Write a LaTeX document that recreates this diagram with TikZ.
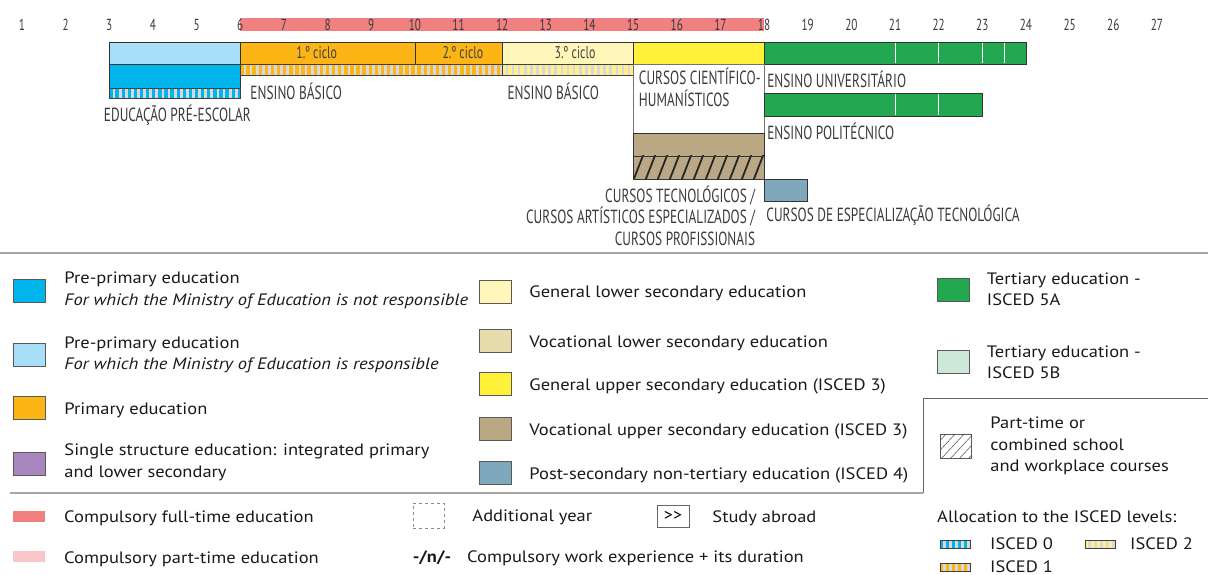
\documentclass[tikz,border=0pt]{standalone}
\usepackage{fontspec}
\setmainfont{PT Sans}[FakeStretch=1.12]
\newfontfamily\narrowfont[FakeStretch=0.70]{PT Sans}
\usetikzlibrary{positioning}

\definecolor{compfull}{RGB}{241,128,128}
\definecolor{comppart}{RGB}{249,198,201}
\definecolor{preblue}{RGB}{0,181,236}
\definecolor{prelight}{RGB}{168,222,247}
\definecolor{primary}{RGB}{253,181,21}
\definecolor{singlestr}{RGB}{168,134,190}
\definecolor{genlower}{RGB}{255,247,186}
\definecolor{voclower}{RGB}{230,220,172}
\definecolor{genupper}{RGB}{255,240,58}
\definecolor{vocupper}{RGB}{185,168,131}
\definecolor{postsec}{RGB}{127,168,189}
\definecolor{tertA}{RGB}{34,168,80}
\definecolor{tertB}{RGB}{205,232,214}
\definecolor{iscedtwo}{RGB}{255,240,140}
\definecolor{lblgray}{RGB}{58,58,58}

\tikzset{
  bar/.style={draw=black!80, line width=0.7pt},
  agelbl/.style={font=\narrowfont\fontsize{16}{16}\selectfont, text=lblgray, inner sep=0pt},
  ciclolbl/.style={font=\narrowfont\fontsize{17}{17}\selectfont, text=black!75, inner sep=0pt},
  chartlbl/.style={font=\narrowfont\fontsize{19}{21.5}\selectfont, text=lblgray, inner sep=0pt},
  swatch/.style={draw=black!65, line width=0.5pt, minimum width=32pt, minimum height=23pt, inner sep=0pt},
  legtxt/.style={font=\fontsize{16.5}{21.5}\selectfont, text=black!90, align=left, inner sep=0pt},
  sepline/.style={draw=black!35, line width=1.2pt},
}

% striped band for the ISCED allocation: fill, x1, y1, x2, y2, period
\newcommand\iscedband[6]{%
  \begin{scope}
    \clip (#2,#3) rectangle (#4,#5);
    \fill[black!15] (#2,#3) rectangle (#4,#5);
    \foreach \k in {0,...,60}
      \fill[#1] ({#2+\k*#6},#3) rectangle ({#2+(\k+0.55)*#6},#5);
  \end{scope}
  \draw[black!75, line width=0.6pt] (#2,#3) rectangle (#4,#5);}

\begin{document}
\begin{tikzpicture}[x=1pt, y=-1pt]
\useasboundingbox (0,0) rectangle (1208,575);

% chart: one x unit per year of age
\begin{scope}[x=43.65pt, xshift=-21.65pt]
\fill[compfull] (6,18) rectangle (18,31);
\foreach \a in {1,...,27}
  \node[agelbl] (age\a) at (\a,25) {\a};

% first row
\filldraw[bar, fill=prelight] (3,42) rectangle (6,64);
\filldraw[bar, fill=primary] (6,42) rectangle (12,64);
\draw[bar] (10,42) -- (10,64);
\filldraw[bar, fill=genlower] (12,42) rectangle (15,64);
\filldraw[bar, fill=genupper] (15,42) rectangle (18,64);
\filldraw[bar, fill=tertA] (18,42) rectangle (24,64);
\foreach \d in {21,22,23,23.5}
  \draw[white, line width=1pt] (\d,43) -- (\d,63);
\node[ciclolbl] (ciclo1) at (7.75,53) {1.º ciclo};
\node[ciclolbl] (ciclo2) at (11.1,53) {2.º ciclo};
\node[ciclolbl] (ciclo3) at (13.67,53) {3.º ciclo};

% pre-primary and basic education
\filldraw[bar, fill=preblue] (3,64) rectangle (6,88);
\iscedband{preblue}{3}{88}{6}{98}{0.14}
\iscedband{primary}{6}{64}{12}{75}{0.14}
\iscedband{iscedtwo}{12}{64}{15}{75}{0.14}
\node[chartlbl] (preesc) at (4.56,115) {EDUCAÇÃO PRÉ-ESCOLAR};
\node[chartlbl, anchor=west] (basico1) at (6.23,91) {ENSINO BÁSICO};
\node[chartlbl] (basico2) at (13.17,91) {ENSINO BÁSICO};

% secondary
\draw[black!55, line width=0.6pt, fill=white] (15,64) rectangle (18,133);
\node[chartlbl, anchor=north west, align=left] (cienthum) at (15.13,68)
  {CURSOS CIENTÍFICO-\\HUMANÍSTICOS};
\filldraw[bar, fill=vocupper] (15,133) rectangle (18,156);
\fill[vocupper] (15,156) rectangle (18,179);
\begin{scope}
  \clip (15,156) rectangle (18,179);
  \foreach \k in {-1,...,12}
    \draw[black!85, line width=1.8pt] ({15+\k*0.275},181) -- ({15.24+\k*0.275},154);
\end{scope}
\draw[bar] (15,156) rectangle (18,179);
\node[chartlbl, anchor=east, align=right] (tecno) at (17.8,215.5)
  {CURSOS TECNOLÓGICOS /\\CURSOS ARTÍSTICOS ESPECIALIZADOS /\\CURSOS PROFISSIONAIS};

% tertiary and post-secondary
\filldraw[bar, fill=tertA] (18,93) rectangle (23,116);
\foreach \d in {21,22}
  \draw[white, line width=1pt] (\d,94) -- (\d,115);
\filldraw[bar, fill=postsec] (18,179) rectangle (19,201);
\node[chartlbl, anchor=west] (univ) at (18.07,79) {ENSINO UNIVERSITÁRIO};
\node[chartlbl, anchor=west] (polit) at (18.07,131) {ENSINO POLITÉCNICO};
\node[chartlbl, anchor=west] (cet) at (18.05,215) {CURSOS DE ESPECIALIZAÇÃO TECNOLÓGICA};
\end{scope}

\draw[sepline] (0,253) -- (1208,253);

% legend, first column
\node[swatch, fill=preblue] (sw-prenot) at (29,290.5) {};
\node[legtxt, right=19pt of sw-prenot, yshift=0pt] (tx-prenot)
  {Pre-primary education\\\textit{For which the Ministry of Education is not responsible}};
\node[swatch, fill=prelight] (sw-preresp) at (29,354.5) {};
\node[legtxt, right=19pt of sw-preresp, yshift=-0.5pt] (tx-preresp)
  {Pre-primary education\\\textit{For which the Ministry of Education is responsible}};
\node[swatch, fill=primary] (sw-prim) at (29,407.5) {};
\node[legtxt, right=19pt of sw-prim, yshift=-2.5pt] (tx-prim) {Primary education};
\node[swatch, fill=singlestr] (sw-single) at (29,463.5) {};
\node[legtxt, right=19pt of sw-single, yshift=1pt] (tx-single)
  {Single structure education: integrated primary\\and lower secondary};

% second column
\node[swatch, fill=genlower] (sw-genlow) at (495,292) {};
\node[legtxt, right=18pt of sw-genlow, yshift=-1pt] (tx-genlow) {General lower secondary education};
\node[swatch, fill=voclower] (sw-voclow) at (495,340.5) {};
\node[legtxt, right=18pt of sw-voclow, yshift=-2.5pt] (tx-voclow) {Vocational lower secondary education};
\node[swatch, fill=genupper] (sw-genup) at (495,384) {};
\node[legtxt, right=18pt of sw-genup, yshift=-2pt] (tx-genup) {General upper secondary education (ISCED 3)};
\node[swatch, fill=vocupper] (sw-vocup) at (495,428.5) {};
\node[legtxt, right=18pt of sw-vocup, yshift=-2.5pt] (tx-vocup) {Vocational upper secondary education (ISCED 3)};
\node[swatch, fill=postsec] (sw-post) at (495,472.5) {};
\node[legtxt, right=18pt of sw-post, yshift=-2.5pt] (tx-post) {Post-secondary non-tertiary education (ISCED 4)};

% third column
\node[swatch, fill=tertA] (sw-tertA) at (953.5,289.5) {};
\node[legtxt, right=17pt of sw-tertA] (tx-tertA) {Tertiary education -\\ISCED 5A};
\node[swatch, fill=tertB] (sw-tertB) at (953.5,361.5) {};
\node[legtxt, right=17pt of sw-tertB, yshift=-1pt] (tx-tertB) {Tertiary education -\\ISCED 5B};
\draw[sepline, line width=0.8pt, draw=black!60] (1208,398) -- (923,398) -- (923,493);
\node[swatch, minimum height=24pt, minimum width=31pt] (sw-hatch) at (955.5,446) {};
\begin{scope}
  \clip (940,434) rectangle (971,458);
  \foreach \k in {-2,...,3}
    \draw[black!70, line width=0.5pt] ({940+\k*9},460) -- ({966+\k*9},432);
\end{scope}
\node[legtxt, right=19pt of sw-hatch] (tx-hatch)
  {Part-time or\\combined school\\and workplace courses};

\draw[sepline] (10,493) -- (923,493);

% bottom row
\fill[compfull] (13,511) rectangle (45,522);
\node[legtxt, anchor=west] (tx-full) at (64,518.5) {Compulsory full-time education};
\fill[comppart] (13,551) rectangle (45,562);
\node[legtxt, anchor=west] (tx-part) at (64,559) {Compulsory part-time education};
\node[swatch, dashed, draw=black!45, minimum width=31pt, minimum height=25pt] (sw-addyear) at (428.5,515.5) {};
\node[legtxt, right=28pt of sw-addyear, yshift=-2pt] (tx-addyear) {Additional year};
\node[legtxt, font=\fontsize{16.5}{20}\selectfont\bfseries] (sw-work) at (432,558) {-/n/-};
\node[legtxt, anchor=west] (tx-work) at (467,558.5) {Compulsory work experience + its duration};
\node[swatch, draw=black!60, minimum width=32pt, minimum height=22pt, font=\fontsize{16}{16}\selectfont] (sw-abroad) at (673,516) {{>}{>}};
\node[legtxt, right=23pt of sw-abroad, yshift=-2pt] (tx-abroad) {Study abroad};
\node[legtxt, anchor=west] (tx-alloc) at (937,517) {Allocation to the ISCED levels:};
\iscedband{preblue}{940}{540}{970}{548}{6}
\node[legtxt, anchor=west] (tx-isc0) at (990,543.5) {ISCED 0};
\iscedband{iscedtwo}{1085}{540}{1115}{548}{6}
\node[legtxt, anchor=west] (tx-isc2) at (1130,543.5) {ISCED 2};
\iscedband{primary}{940}{563}{970}{571}{6}
\node[legtxt, anchor=west] (tx-isc1) at (990,567) {ISCED 1};
\end{tikzpicture}
\end{document}
